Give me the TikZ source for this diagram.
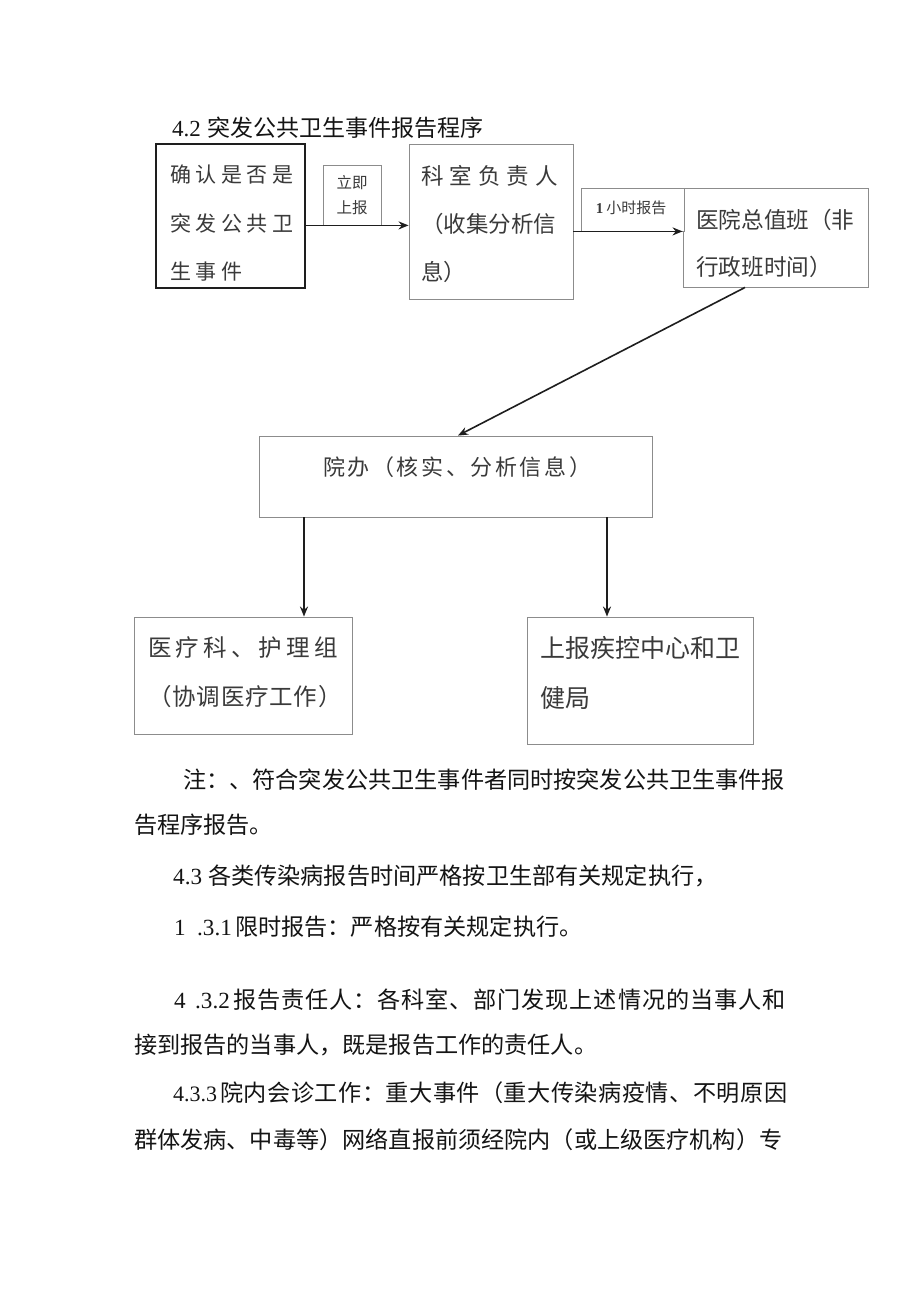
\documentclass[tikz,border=0pt]{standalone}
\usepackage{fontspec}
\setmainfont{Liberation Serif}
\newfontfamily\cjk{Noto Sans CJK SC}
\usetikzlibrary{arrows.meta}
\definecolor{boxgray}{HTML}{8C8C8C}
\definecolor{txtgray}{HTML}{3A3A3A}
\definecolor{linedark}{HTML}{1E1E1E}
\newcommand\fsz[2]{\fontsize{#1}{#2}\selectfont}
% letter-spaced text: \spaced{gap in pt}{text}
\newcommand\spaced[2]{\def\spgap{\kern#1pt}\spA#2\relax}
\def\spA#1{\ifx#1\relax\else#1\expandafter\spB\fi}
\def\spB#1{\ifx#1\relax\else\spgap#1\expandafter\spB\fi}
\tikzset{
  box/.style={draw=boxgray, line width=0.9pt, inner sep=0pt},
  boxA/.style={draw=linedark, line width=1.8pt, inner sep=0pt},
  lbl/.style={draw=boxgray, line width=0.8pt, inner sep=0pt, fill=white},
  arr/.style={draw=linedark, line width=1.6pt, -{Stealth[length=10pt,width=8pt]}},
  intxt/.style={inner sep=0pt, anchor=west, align=left, text=txtgray},
  body/.style={inner sep=0pt, anchor=west, text=black!92, font=\fsz{23.15}{28}},
}
\begin{document}
\begin{tikzpicture}[x=1pt,y=-1pt]
\useasboundingbox (0,0) rectangle (920,1301);
\fill[white] (0,0) rectangle (920,1301);

% title
\node[body, font=\fsz{23}{28}] (title) at (172,128) {\makebox[35pt][l]{4.2}{\cjk 突发公共卫生事件报告程序}};

% boxes
\node[boxA, minimum width=149pt, minimum height=144pt] (a) at (230.5,216) {};
\node[box, minimum width=164pt, minimum height=155pt] (b) at (491,221.5) {};
\node[box, minimum width=185pt, minimum height=99pt] (c) at (775.5,237.5) {};
\node[box, minimum width=393pt, minimum height=81pt] (d) at (455.5,476.5) {};
\node[box, minimum width=218pt, minimum height=117pt] (e) at (243,675.5) {};
\node[box, minimum width=226pt, minimum height=127pt] (f) at (640,680.5) {};

% label boxes on connectors
\node[lbl, minimum width=58pt, minimum height=60pt] (l1) at (352,195) {};
\node[lbl, minimum width=103pt, minimum height=43pt] (l2) at (632.5,209.5) {};
\node[inner sep=0pt, align=center, text=txtgray, font=\cjk\fsz{15.5}{25}] (l1t) at (352,195.5) {立即\\上报};
\node[inner sep=0pt, text=txtgray, font=\fsz{15}{18}] (l2t) at (631,207.5) {\textbf{1}\kern3pt{\cjk 小时报告}};

% box texts
\node[intxt, font=\cjk\fsz{21}{48.5}] (at) at (170,223.5)
  {\spaced{4.5}{确认是否是}\\\spaced{4.5}{突发公共卫}\\\spaced{4.5}{生事件}};
\node[intxt, font=\cjk\fsz{22.5}{48}] (bt) at (421,224)
  {\spaced{6}{科室负责人}\\（收集分析信\\息）};
\node[intxt, font=\cjk\fsz{22.6}{47}] (ct) at (696,243.5)
  {医院总值班（非\\行政班时间）};
\node[intxt, font=\cjk\fsz{22}{28}] (dt) at (323,467)
  {\spaced{2.6}{院办（核实、分析信息）}};
\node[intxt, font=\cjk\fsz{23.5}{49}] (et) at (148,672.5)
  {\spaced{4.2}{医疗科、护理组}\\\spaced{0.8}{（协调医疗工作）}};
\node[intxt, font=\cjk\fsz{25}{50}] (ft) at (540,673)
  {上报疾控中心和卫\\健局};

% connectors
\draw[arr] (l1.south -| a.east) -- (l1.south -| b.west);
\draw[arr] (l2.south -| b.east) -- (l2.south -| c.west);
\draw[arr] ([xshift=-30.5pt]c.south) -- ([xshift=2.5pt]d.north);
\draw[arr] ([xshift=-151.5pt]d.south) -- ([xshift=-151.5pt]d.south |- e.north);
\draw[arr] ([xshift=151.5pt]d.south) -- ([xshift=151.5pt]d.south |- f.north);

% body text
\node[body] (n1) at (183,780) {\cjk 注：、符合突发公共卫生事件者同时按突发公共卫生事件报};
\node[body] (n2) at (134,825) {\cjk 告程序报告。};
\node[body] (n3) at (173,876) {\makebox[35pt][l]{4.3}{\cjk 各类传染病报告时间严格按卫生部有关规定执行，}};
\node[body] (n4) at (174,927) {\makebox[23pt][l]{1}\makebox[38pt][l]{.3.1}{\cjk 限时报告：严格按有关规定执行。}};
\node[body] (n5) at (174,1000) {\makebox[21pt][l]{4}\makebox[38pt][l]{.3.2}{\cjk\spaced{0.9}{报告责任人：各科室、部门发现上述情况的当事人和}}};
\node[body] (n6) at (134,1045) {\cjk 接到报告的当事人，既是报告工作的责任人。};
\node[body] (n7) at (173,1093) {\makebox[47pt][l]{\fontsize{22}{28}\selectfont 4.3.3}{\cjk\spaced{0.5}{院内会诊工作：重大事件（重大传染病疫情、不明原因}}};
\node[body] (n8) at (134,1140) {\cjk 群体发病、中毒等）网络直报前须经院内（或上级医疗机构）专};
\end{tikzpicture}
\end{document}
